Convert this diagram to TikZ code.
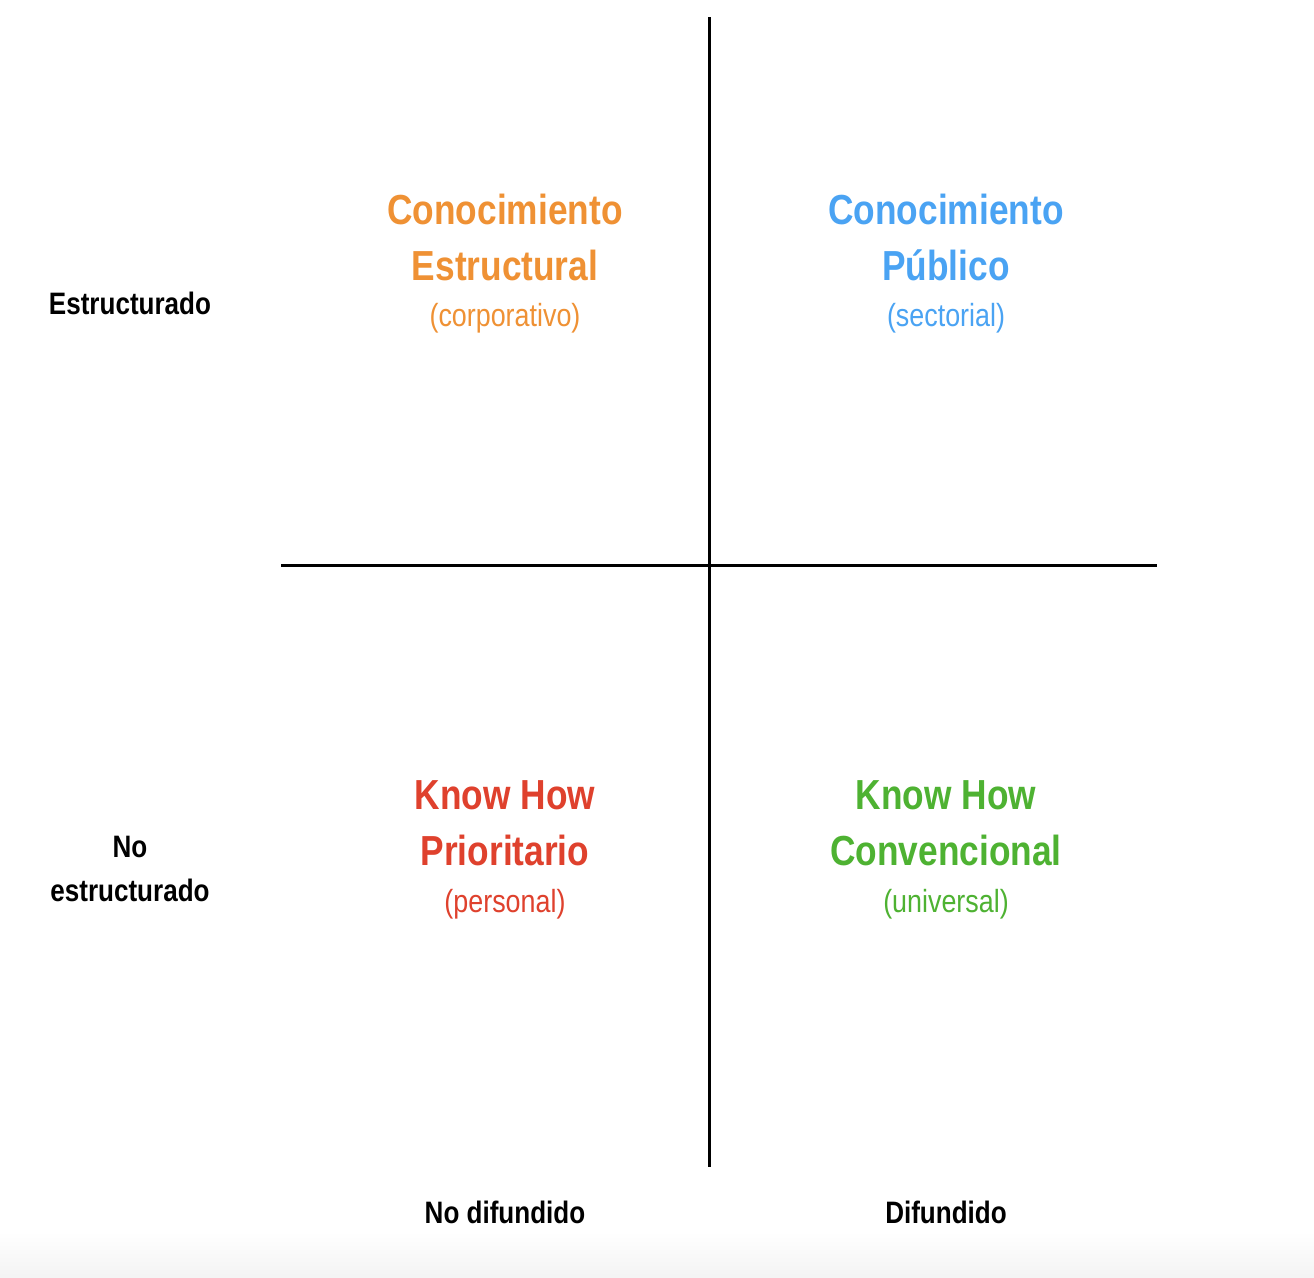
\documentclass[tikz,border=0pt]{standalone}
\usepackage{fontspec}
\setmainfont[FakeStretch=0.84]{Liberation Sans}
\definecolor{qorange}{RGB}{239,145,52}
\definecolor{qblue}{RGB}{74,163,243}
\definecolor{qred}{RGB}{223,65,45}
\definecolor{qgreen}{RGB}{78,178,50}
\tikzset{
  title/.style={anchor=base, inner sep=0pt, font=\bfseries\fontsize{42}{42}\selectfont},
  subtitle/.style={anchor=base, inner sep=0pt, font=\fontsize{32}{32}\selectfont},
  axislabel/.style={anchor=base, inner sep=0pt, text=black, font=\bfseries\fontsize{31}{31}\selectfont},
  axisline/.style={line width=3pt, black}
}
\begin{document}
\begin{tikzpicture}[x=1pt,y=-1pt]
\useasboundingbox (0,0) rectangle (1314,1277);
\fill[white] (0,0) rectangle (1314,1277);
\shade[top color=white, bottom color=gray!9] (0,1232) rectangle (1314,1277);

% axes
\coordinate (vt) at (709,17);
\coordinate (vb) at (709,1167);
\coordinate (hl) at (281,565);
\coordinate (hr) at (1157,565);
\draw[axisline] (vt) -- (vb);
\draw[axisline] (hl) -- (hr);

% top-left quadrant
\node[title, text=qorange] (ce1) at (505,224) {Conocimiento};
\node[title, text=qorange] (ce2) at (505,280) {Estructural};
\node[subtitle, text=qorange] (ce3) at (505,326) {(corporativo)};

% top-right quadrant
\node[title, text=qblue] (cp1) at (946,224) {Conocimiento};
\node[title, text=qblue] (cp2) at (946,280) {Público};
\node[subtitle, text=qblue] (cp3) at (946,326) {(sectorial)};

% bottom-left quadrant
\node[title, text=qred] (kp1) at (505,809) {Know How};
\node[title, text=qred] (kp2) at (505,865) {Prioritario};
\node[subtitle, text=qred] (kp3) at (505,912) {(personal)};

% bottom-right quadrant
\node[title, text=qgreen] (kc1) at (946,809) {Know How};
\node[title, text=qgreen] (kc2) at (946,865) {Convencional};
\node[subtitle, text=qgreen] (kc3) at (946,912) {(universal)};

% axis labels
\node[axislabel] (est) at (130,314) {Estructurado};
\node[axislabel] (noest1) at (130,857) {No};
\node[axislabel] (noest2) at (130,901) {estructurado};
\node[axislabel] (nodif) at (505,1223) {No difundido};
\node[axislabel] (dif) at (946,1223) {Difundido};
\end{tikzpicture}
\end{document}
